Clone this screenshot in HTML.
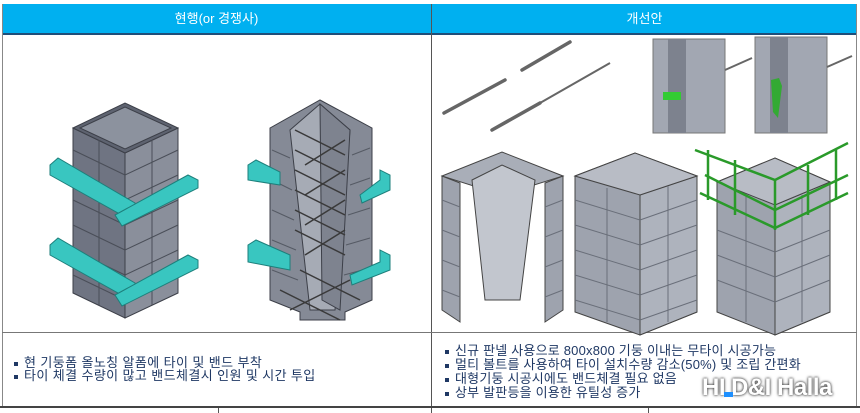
<!DOCTYPE html>
<html><head><meta charset="utf-8"><style>
body{margin:0;width:860px;height:413px;background:#fff;position:relative;overflow:hidden;font-family:"Liberation Sans","Noto Sans CJK KR",sans-serif}
.a{position:absolute}
.hd{top:4px;height:29px;background:#00b0f0;border-bottom:2px solid #1f4e79;color:#fff;font-size:13px;line-height:29px;text-align:center}
.t{font-size:13px;color:#1f3864;line-height:13px;white-space:nowrap}
.t span.b{display:inline-block;width:4px;height:4px;background:#1f3864;margin-right:6px;vertical-align:middle}
</style></head><body>
<div class="a hd" style="left:2px;width:429px">현행(or 경쟁사)</div>
<div class="a hd" style="left:432px;width:425px">개선안</div>
<div class="a" style="left:2px;top:4px;width:1px;height:404px;background:#888"></div>
<div class="a" style="left:856px;top:4px;width:1px;height:404px;background:#888"></div>
<div class="a" style="left:431px;top:4px;width:1px;height:409px;background:#555"></div>
<div class="a" style="left:2px;top:332px;width:855px;height:1px;background:#777"></div>
<div class="a" style="left:0;top:406px;width:860px;height:2px;background:#444"></div>
<div class="a" style="left:218px;top:408px;width:1px;height:5px;background:#555"></div>
<div class="a" style="left:648px;top:408px;width:1px;height:5px;background:#555"></div>
<svg class="a" style="left:0;top:0" width="860" height="406">
<g stroke="#3c3f48" stroke-width="1">
<polygon points="73,128 125,153 125,318 73,293" fill="#6f7482"/>
<polygon points="125,153 178,128 178,293 125,318" fill="#8a8f9b"/>
<polygon points="73,128 125,103 178,128 125,153" fill="#5e6370"/>
<polygon points="80,128 125,107 171,128 125,149" fill="#8c929e"/>
</g>
<g stroke="#4a4e58" stroke-width="1">
<line x1="99" y1="140" x2="99" y2="305"/><line x1="152" y1="140" x2="152" y2="305"/>
<line x1="73" y1="150" x2="125" y2="175"/><line x1="73" y1="175" x2="125" y2="200"/><line x1="73" y1="200" x2="125" y2="225"/><line x1="73" y1="225" x2="125" y2="250"/><line x1="73" y1="250" x2="125" y2="275"/><line x1="73" y1="275" x2="125" y2="300"/>
<line x1="125" y1="175" x2="178" y2="150"/><line x1="125" y1="200" x2="178" y2="175"/><line x1="125" y1="225" x2="178" y2="200"/><line x1="125" y1="250" x2="178" y2="225"/><line x1="125" y1="275" x2="178" y2="250"/><line x1="125" y1="300" x2="178" y2="275"/>
</g>
<g stroke="#3c3f48" stroke-width="1">
<polygon points="270,128 320,100 372,128 372,300 345,312 345,320 300,320 300,312 270,300" fill="#858a96"/>
<polygon points="290,130 320,104 350,130 335,310 310,310" fill="#a6abb5"/>
<polygon points="320,104 350,130 340,310 322,300" fill="#7e838f"/>
</g>
<g stroke="#555a64" stroke-width="1"><line x1="272" y1="150" x2="290" y2="158"/><line x1="272" y1="180" x2="292" y2="190"/><line x1="272" y1="210" x2="294" y2="220"/><line x1="272" y1="240" x2="296" y2="250"/><line x1="272" y1="270" x2="298" y2="280"/><line x1="352" y1="155" x2="370" y2="148"/><line x1="350" y1="185" x2="370" y2="178"/><line x1="348" y1="215" x2="370" y2="208"/><line x1="346" y1="245" x2="370" y2="238"/><line x1="344" y1="275" x2="370" y2="268"/></g>
<g stroke="#3a3a3a" stroke-width="1.5">
<line x1="295" y1="130" x2="345" y2="155"/><line x1="295" y1="150" x2="345" y2="175"/><line x1="295" y1="170" x2="345" y2="195"/><line x1="295" y1="190" x2="345" y2="215"/><line x1="295" y1="210" x2="345" y2="235"/><line x1="295" y1="230" x2="345" y2="255"/>
<line x1="345" y1="140" x2="305" y2="165"/><line x1="345" y1="170" x2="305" y2="195"/><line x1="345" y1="200" x2="305" y2="225"/><line x1="345" y1="230" x2="305" y2="255"/>
<line x1="280" y1="290" x2="340" y2="320"/><line x1="300" y1="270" x2="360" y2="300"/><line x1="290" y1="310" x2="350" y2="280"/>
</g>
<g fill="#39c6c0" stroke="#1d7f7b" stroke-width="1">
<polygon points="50,165 58,158 135,203 135,213 127,218 50,175"/>
<polygon points="115,215 188,175 198,180 198,188 122,226"/>
<polygon points="50,245 58,238 135,283 135,293 127,298 50,255"/>
<polygon points="115,295 188,255 198,260 198,268 122,306"/>
<polygon points="248,165 256,160 280,172 280,185 248,180"/>
<polygon points="360,195 380,180 380,170 390,175 390,190 362,203"/>
<polygon points="248,245 256,240 290,255 290,270 248,262"/>
<polygon points="350,275 380,262 380,250 390,255 390,270 352,285"/>
</g>
<g stroke="#666" stroke-width="3.5" stroke-linecap="round"><line x1="444" y1="113" x2="505" y2="80"/><line x1="492" y1="130" x2="540" y2="103"/><line x1="522" y1="70" x2="570" y2="42"/></g>
<line x1="540" y1="103" x2="610" y2="63" stroke="#666" stroke-width="2"/>
<rect x="653" y="39" width="72" height="94" fill="#a2a7b2" stroke="#777"/>
<rect x="755" y="37" width="72" height="96" fill="#a2a7b2" stroke="#777"/>
<rect x="668" y="39" width="18" height="94" fill="#7d828e"/><rect x="770" y="37" width="18" height="96" fill="#7d828e"/>
<line x1="725" y1="70" x2="752" y2="58" stroke="#666" stroke-width="2"/><line x1="827" y1="67" x2="852" y2="56" stroke="#666" stroke-width="2"/>
<rect x="663" y="92" width="18" height="8" fill="#3c3" /><polygon points="771,80 779,78 782,86 778,118 773,112" fill="#3a3"/>
<g stroke="#444" stroke-width="1">
<polygon points="442,176 460,183 460,322 442,310" fill="#9ea3ae"/>
<polygon points="563,176 545,183 545,322 563,310" fill="#9ea3ae"/>
<polygon points="442,176 502,152 563,176 502,195" fill="#a9aeb8"/>
<polygon points="472,180 502,165 535,180 520,300 485,300" fill="#c2c6ce"/>
<polygon points="575,176 635,153 697,176 697,312 640,335 575,312" fill="#9ea3ae"/>
<polygon points="640,195 697,176 697,312 640,335" fill="#aeb3bd"/>
<polygon points="575,176 635,153 697,176 640,195" fill="#b8bcc5"/>
<polygon points="717,182 775,158 830,182 830,312 775,335 717,312" fill="#9ea3ae"/>
<polygon points="775,205 830,182 830,312 775,335" fill="#aeb3bd"/>
<polygon points="717,182 775,158 830,182 775,205" fill="#b8bcc5"/>
</g>
<g stroke="#6a6f7a" stroke-width="1">
<line x1="607" y1="188" x2="607" y2="322"/><line x1="668" y1="186" x2="668" y2="322"/><line x1="746" y1="195" x2="746" y2="322"/><line x1="802" y1="195" x2="802" y2="322"/>
<line x1="575" y1="200" x2="640" y2="220"/><line x1="575" y1="225" x2="640" y2="245"/><line x1="575" y1="250" x2="640" y2="270"/><line x1="575" y1="275" x2="640" y2="295"/><line x1="575" y1="300" x2="640" y2="320"/>
<line x1="640" y1="220" x2="697" y2="200"/><line x1="640" y1="245" x2="697" y2="225"/><line x1="640" y1="270" x2="697" y2="250"/><line x1="640" y1="295" x2="697" y2="275"/><line x1="640" y1="320" x2="697" y2="300"/>
<line x1="717" y1="230" x2="775" y2="252"/><line x1="717" y1="255" x2="775" y2="277"/><line x1="717" y1="280" x2="775" y2="302"/><line x1="775" y1="252" x2="830" y2="230"/><line x1="775" y1="277" x2="830" y2="255"/><line x1="775" y1="302" x2="830" y2="280"/>
<line x1="442" y1="200" x2="460" y2="207"/><line x1="442" y1="230" x2="460" y2="237"/><line x1="442" y1="260" x2="460" y2="267"/><line x1="442" y1="290" x2="460" y2="297"/>
<line x1="545" y1="207" x2="563" y2="200"/><line x1="545" y1="237" x2="563" y2="230"/><line x1="545" y1="267" x2="563" y2="260"/><line x1="545" y1="297" x2="563" y2="290"/>
</g>
<g stroke="#2a9a2a" stroke-width="2.5" fill="none">
<polyline points="695,150 775,180 848,143"/>
<polyline points="700,193 775,228 848,193"/>
<polyline points="705,175 775,210 848,175"/>
<line x1="708" y1="150" x2="708" y2="200"/><line x1="735" y1="160" x2="735" y2="215"/><line x1="775" y1="180" x2="775" y2="230"/><line x1="808" y1="165" x2="808" y2="215"/><line x1="836" y1="150" x2="836" y2="200"/>
</g>
</svg>
<div class="a t" style="left:14px;top:356px;letter-spacing:0.4px"><span class="b"></span>현 기둥폼 올노칭 알폼에 타이 및 밴드 부착<br><span class="b"></span>타이 체결 수량이 많고 밴드체결시 인원 및 시간 투입</div>
<div class="a t" style="left:445px;top:344px;line-height:14px;letter-spacing:0.2px"><span class="b"></span>신규 판넬 사용으로 800x800 기둥 이내는 무타이 시공가능<br><span class="b"></span>멀티 볼트를 사용하여 타이 설치수량 감소(50%) 및 조립 간편화<br><span class="b"></span>대형기둥 시공시에도 밴드체결 필요 없음<br><span class="b"></span>상부 발판등을 이용한 유틸성 증가</div>
<div class="a" style="left:702px;top:374px;font-size:24px;font-weight:bold;color:#fff;text-shadow:0 0 3px #444,0 0 2px #666;white-space:nowrap;letter-spacing:-0.5px"><span style="margin-right:6px">HI</span>D&amp;I Halla</div>
<div class="a" style="left:724px;top:392px;width:9px;height:5px;background:#1e90ff"></div>
</body></html>
